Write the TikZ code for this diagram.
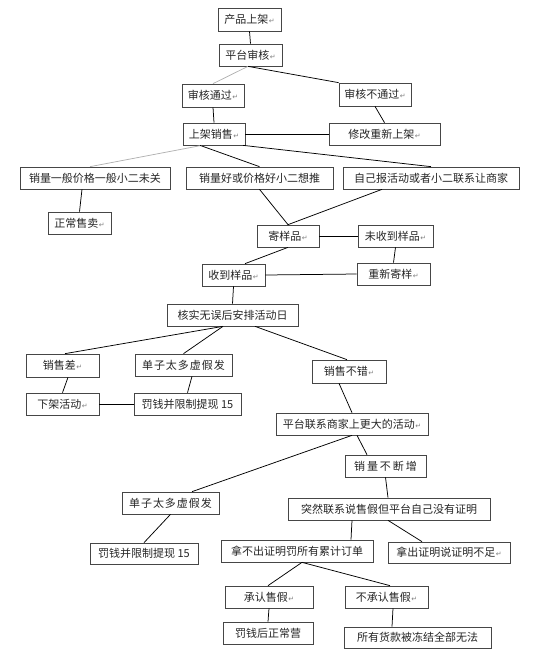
\documentclass[tikz,border=0pt]{standalone}
\usepackage{fontspec}
\newfontfamily\cjk{Noto Sans CJK SC}
\newfontfamily\symfont{DejaVu Sans}
\newcommand\retmark{\hspace{0.5pt}{\symfont\fontsize{7}{7}\selectfont\color{gray}↵}}
\tikzset{
  bx/.style={draw=gray!55!black, line width=0.7pt, fill=white, inner sep=0pt,
    minimum height=22pt, font=\cjk\fontsize{11}{11}\selectfont, text=black!85},
  ln/.style={line width=0.75pt, black},
  gln/.style={line width=0.75pt, gray!60},
  wide/.style={font=\cjk\fontsize{11}{11}\selectfont\addfontfeature{LetterSpace=#1}},
}
\begin{document}
\begin{tikzpicture}[x=1pt,y=-1pt]
\useasboundingbox (0,0) rectangle (559,665);
% nodes
\node[bx, minimum width=63pt, minimum height=23pt] (p1) at (249.5,19.5) {产品上架\retmark};
\node[bx, minimum width=63pt] (p2) at (250.5,55) {平台审核\retmark};
\node[bx, minimum width=62pt, minimum height=23pt] (p3) at (213,95.5) {审核通过\retmark};
\node[bx, minimum width=72pt, minimum height=23pt] (p4) at (375,94.5) {审核不通过\retmark};
\node[bx, minimum width=62pt] (p5) at (214,134) {上架销售\retmark};
\node[bx, minimum width=111pt] (p6) at (384.5,134) {修改重新上架\retmark};
\node[bx, minimum width=150pt] (p7) at (95,178) {销量一般价格一般小二未关};
\node[bx, minimum width=147pt] (p8) at (259.5,178) {销量好或价格好小二想推};
\node[bx, minimum width=176pt] (p9) at (431,178) {自己报活动或者小二联系让商家};
\node[bx, minimum width=63pt] (p10) at (79.5,223) {正常售卖\retmark};
\node[bx, minimum width=62pt] (p11) at (288,236) {寄样品\retmark};
\node[bx, minimum width=75pt] (p12) at (395.5,236) {未收到样品\retmark};
\node[bx, minimum width=63pt] (p13) at (233.5,275) {收到样品\retmark};
\node[bx, minimum width=73pt] (p14) at (393.5,274) {重新寄样\retmark};
\node[bx, minimum width=131pt] (p15) at (232.5,315) {核实无误后安排活动日};
\node[bx, minimum width=73pt, minimum height=23pt] (p16) at (62.5,365.5) {销售差\retmark};
\node[bx, wide=9, minimum width=97pt] (p17) at (183.5,365) {单子太多虚假发};
\node[bx, minimum width=74pt, minimum height=23pt] (p18) at (349,371.5) {销售不错\retmark};
\node[bx, minimum width=73pt] (p19) at (62.5,404) {下架活动\retmark};
\node[bx, minimum width=107pt] (p20) at (187.5,404) {罚钱并限制提现 15};
\node[bx, minimum width=152pt] (p21) at (352,424) {平台联系商家上更大的活动\retmark};
\node[bx, wide=18, minimum width=81pt] (p22) at (385.5,466) {销量不断增};
\node[bx, wide=9, minimum width=97pt] (p23) at (170.5,503) {单子太多虚假发};
\node[bx, minimum width=202pt] (p24) at (389,509) {突然联系说售假但平台自己没有证明};
\node[bx, minimum width=108pt, minimum height=21pt] (p25) at (144,553.5) {罚钱并限制提现 15};
\node[bx, minimum width=152pt] (p26) at (297,551) {拿不出证明罚所有累计订单};
\node[bx, minimum width=122pt, minimum height=21pt] (p27) at (449,552.5) {拿出证明说证明不足\retmark};
\node[bx, minimum width=88pt] (p28) at (269,597) {承认售假\retmark};
\node[bx, minimum width=83pt] (p29) at (386.5,597) {不承认售假\retmark};
\node[bx, minimum width=90pt] (p30) at (268,633) {罚钱后正常营};
\node[bx, minimum width=147pt, minimum height=21pt] (p31) at (417.5,637.5) {所有货款被冻结全部无法};
% connectors
\draw[ln] (p1.south) -- (p2.north);
\draw[gln] ([xshift=-2.5pt]p2.south) -- (p3.north);
\draw[ln] ([xshift=-2.5pt]p2.south) -- (p4.north west);
\draw[ln] (p3.south) -- (p5.north);
\draw[ln] (p4.south) -- (p6.north);
\draw[ln] (p5.east) -- (p6.west);
\draw[gln] ([xshift=-12pt]p5.south) -- ([xshift=-5pt]p7.north);
\draw[ln] ([xshift=-14pt]p5.south) -- (p8.north);
\draw[ln] ([xshift=29pt]p5.south) -- (p9.north);
\draw[ln] ([xshift=-13pt]p7.south) -- (p10.north);
\draw[ln] (p8.south) -- (p11.north);
\draw[ln] ([xshift=-49pt]p9.south) -- (p11.north);
\draw[ln] (p11.east) -- (p12.west);
\draw[ln] (p11.south) -- ([xshift=11.5pt]p13.north);
\draw[ln] (p12.south) -- (p14.north);
\draw[ln] (p14.west) -- (p13.east);
\draw[ln] (p13.south) -- (p15.north);
\draw[ln] ([xshift=-9.5pt]p15.south) -- ([xshift=2.5pt]p16.north);
\draw[ln] ([xshift=-9.5pt]p15.south) -- (p17.north);
\draw[ln] ([xshift=22.5pt]p15.south) -- ([xshift=-2pt]p18.north);
\draw[ln] ([xshift=5.5pt]p16.south) -- (p19.north);
\draw[ln] ([xshift=8.5pt]p17.south) -- (p20.north);
\draw[ln] (p20.west) -- (p19.east);
\draw[ln] ([xshift=-10pt]p18.south) -- (p21.north);
\draw[ln] (p21.south) -- ([xshift=21.5pt]p23.north);
\draw[ln] ([xshift=5pt]p21.south) -- ([xshift=-18.5pt]p22.north);
\draw[ln] (p22.south) -- ([xshift=-1pt]p24.north);
\draw[ln] (p23.south) -- (p25.north);
\draw[ln] ([xshift=-37pt]p24.south) -- ([xshift=54pt]p26.north);
\draw[ln] ([xshift=-1pt]p24.south) -- ([xshift=-27pt]p27.north);
\draw[ln] ([xshift=5pt]p26.south) -- ([xshift=-1pt]p28.north);
\draw[ln] ([xshift=5pt]p26.south) -- ([xshift=3.5pt]p29.north);
\draw[ln] (p28.south) -- (p30.north);
\draw[ln] ([xshift=6.5pt]p29.south) -- ([xshift=-25.5pt]p31.north);
\end{tikzpicture}
\end{document}
